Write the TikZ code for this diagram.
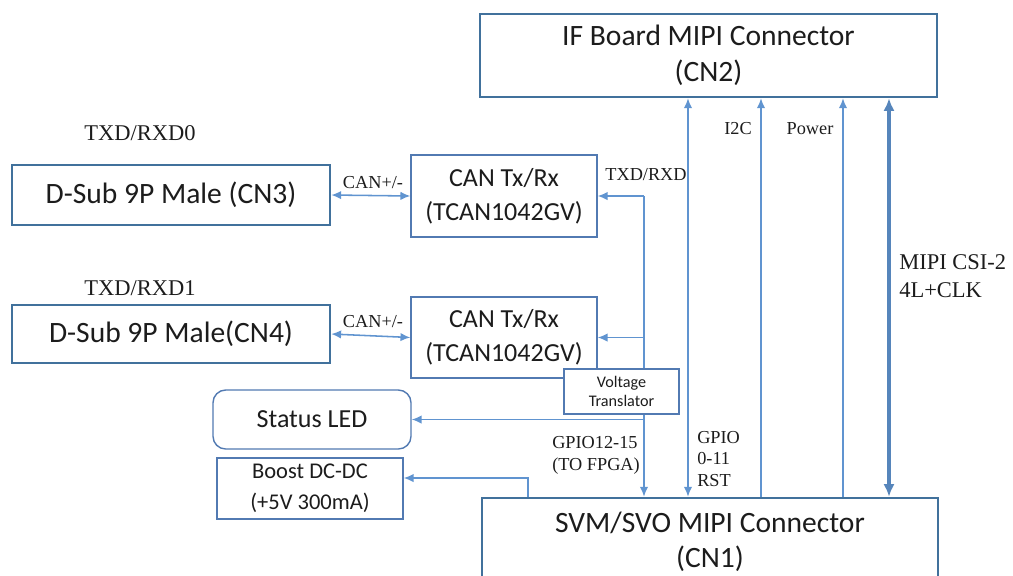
\documentclass[tikz,border=0pt]{standalone}
\usepackage{fontspec}
\setmainfont{Liberation Serif}
\newfontfamily\boxfont{Carlito}
\usetikzlibrary{arrows.meta}
\definecolor{linkblue}{RGB}{96,148,208}
\definecolor{frameblue}{RGB}{65,113,156}
\definecolor{thinframe}{RGB}{82,122,178}
\definecolor{ink}{RGB}{28,28,28}

\begin{document}
\begin{tikzpicture}[x=0.025cm,y=-0.025cm,
  bigbox/.style={draw=frameblue, line width=1.8pt, fill=white, inner sep=0pt,
    align=center, text=ink, font=\boxfont\fontsize{21}{25.5}\selectfont},
  smallbox/.style={draw=thinframe, line width=1pt, fill=white, inner sep=0pt,
    align=center, text=ink, font=\boxfont\fontsize{18.5}{24}\selectfont},
  sig/.style={draw=linkblue, line width=1.1pt},
  bus/.style={draw=linkblue!90!black, line width=2.8pt},
  ar/.style={-{Latex[length=7pt,width=6pt]}},
  biar/.style={{Latex[length=7pt,width=6pt]}-{Latex[length=7pt,width=6pt]}},
  busar/.style={{Latex[length=9pt,width=8pt]}-{Latex[length=9pt,width=8pt]}},
  lbl/.style={inner sep=0pt, text=ink, font=\fontsize{13}{15.5}\selectfont},
  biglbl/.style={inner sep=0pt, text=ink, font=\fontsize{16}{20}\selectfont}
]
\useasboundingbox (0,0) rectangle (1013,575);

% connectors
\node[bigbox, minimum width=457*0.025cm, minimum height=83*0.025cm]
  (cn2) at (708.5,55.5) {IF Board MIPI Connector\\(CN2)};
\node[bigbox, minimum width=456*0.025cm, minimum height=88*0.025cm,
  font=\boxfont\fontsize{21}{25}\selectfont]
  (cn1) at (710,542) {SVM/SVO MIPI Connector\\(CN1)};
\node[bigbox, minimum width=318*0.025cm, minimum height=60*0.025cm]
  (cn3) at (171,195) {D-Sub 9P Male (CN3)};
\node[bigbox, minimum width=318*0.025cm, minimum height=58*0.025cm]
  (cn4) at (171,334) {D-Sub 9P Male(CN4)};

% CAN transceivers
\node[smallbox, minimum width=186*0.025cm, minimum height=82*0.025cm]
  (can1) at (504,196) {CAN Tx/Rx\\(TCAN1042GV)};
\node[smallbox, minimum width=186*0.025cm, minimum height=81*0.025cm]
  (can2) at (504,337.5) {CAN Tx/Rx\\(TCAN1042GV)};

% peripherals
\node[smallbox, rounded corners=9pt, minimum width=198*0.025cm, minimum height=59*0.025cm]
  (led) at (312,419.5) {Status LED};
\node[smallbox, minimum width=186*0.025cm, minimum height=61*0.025cm,
  font=\boxfont\fontsize{16}{22}\selectfont]
  (boost) at (310,488.5) {Boost DC-DC\\(+5V 300mA)};

% CAN bus links
\draw[sig, biar] (cn3.east) -- (can1.west);
\draw[sig, biar] (cn4.east) -- (can2.west);
\node[lbl] (canl1) at (373,183) {CAN+/-};
\node[lbl] (canl2) at (373,322) {CAN+/-};
\node[biglbl] (txd0) at (140,133) {TXD/RXD0};
\node[biglbl] (txd1) at (140,288) {TXD/RXD1};

% UART / GPIO trunk through the voltage translator
\coordinate (tA) at (644,196);
\draw[sig, ar] (tA) -- (can1.east);
\draw[sig, ar] (tA) -- (tA |- cn1.north);
\draw[sig, ar] (tA |- can2.east) -- (can2.east);
\draw[sig, ar] (tA |- led.east) -- (led.east);
\node[smallbox, minimum width=115*0.025cm, minimum height=45*0.025cm,
  font=\boxfont\fontsize{11.5}{14}\selectfont]
  (vt) at (621.5,391.5) {Voltage\\Translator};
\node[lbl] (txdl) at (646,175) {TXD/RXD};
\node[lbl, anchor=west, align=left] (gpiol) at (552,455) {GPIO12-15\\(TO FPGA)};

% boost supply
\coordinate (bA) at (528,478);
\draw[sig, ar] (bA |- cn1.north) -- (bA) -- (bA -| boost.east);

% links between the two MIPI connectors
\draw[sig, biar] (688,0 |- cn1.north) -- (688,0 |- cn2.south);
\draw[sig, ar] (761,0 |- cn1.north) -- (761,0 |- cn2.south);
\draw[sig, ar] (843,0 |- cn1.north) -- (843,0 |- cn2.south);
\draw[bus, busar] (889,0 |- cn1.north) -- (889,0 |- cn2.south);
\node[lbl, anchor=west, align=left]
  (gpio2) at (697,459) {GPIO\\0-11\\RST};
\node[lbl] (i2c) at (738,129) {I2C};
\node[lbl] (pwr) at (810,129) {Power};
\node[biglbl, anchor=west, align=left] (mipi) at (899,276) {MIPI CSI-2\\4L+CLK};
\end{tikzpicture}
\end{document}
